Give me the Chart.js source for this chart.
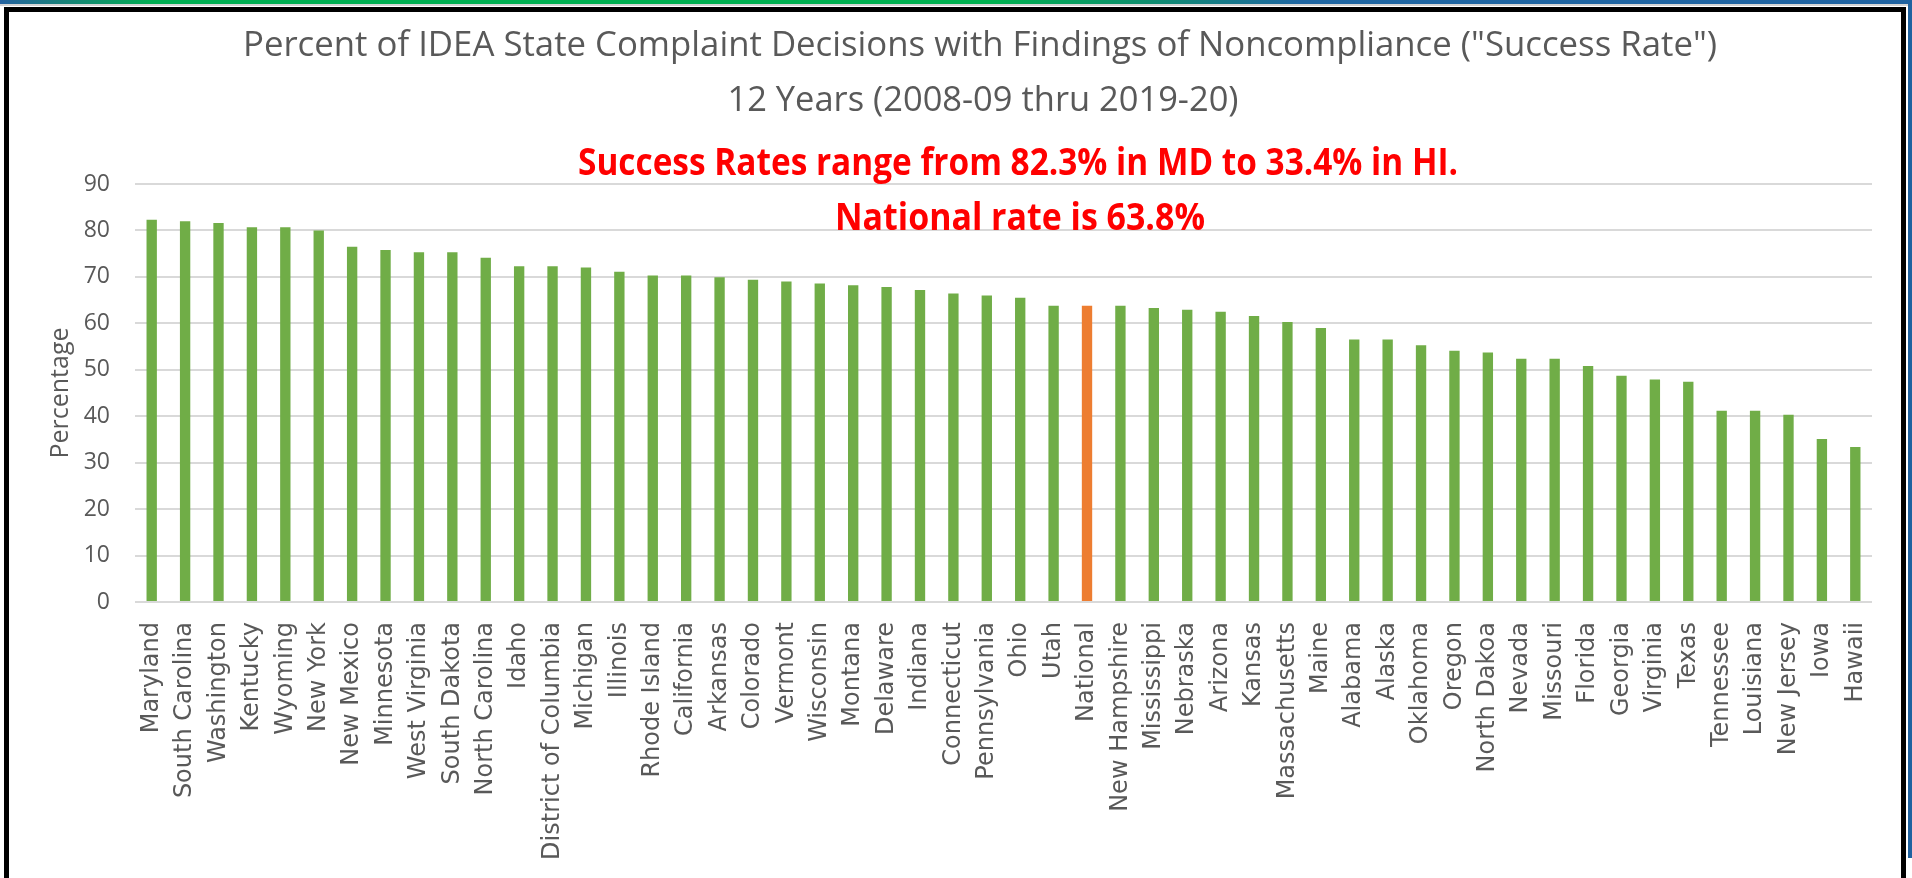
<!DOCTYPE html>
<html>
<head>
<meta charset="utf-8">
<script src="https://cdn.jsdelivr.net/npm/chart.js@4.4.1/dist/chart.umd.min.js"></script>
<style>
  html, body { margin: 0; padding: 0; background: #ffffff; width: 1912px; height: 878px; overflow: hidden; }
  #topbar { position: absolute; left: 0; top: 0; width: 1912px; height: 4px;
    background: linear-gradient(to right, #2462a0 0%, #1a7e7c 3%, #00ad52 8%, #00b050 52%, #0e8d6e 60%, #1f66a2 68%, #1f62a0 100%); }
  #topline { position: absolute; left: 0; top: 4px; width: 1912px; height: 2px; background: #d4d4d4; }
  #rightbar { position: absolute; left: 1908px; top: 0; width: 4px; height: 858px; background: #1f62a0; }
  #frame { position: absolute; left: 4px; top: 7px; width: 1902px; height: 920px; border: 5px solid #000; box-sizing: border-box; background: #fff; }
  #c { position: absolute; left: 0; top: 0; }
</style>
</head>
<body>
<div id="topbar"></div>
<div id="topline"></div>
<div id="rightbar"></div>
<div id="frame"></div>
<canvas id="c" width="1912" height="878"></canvas>
<script>
const titleLine1 = 'Percent of IDEA State Complaint Decisions with Findings of Noncompliance ("Success Rate")';
const titleLine2 = '12 Years (2008-09 thru 2019-20)';
const noteLine1 = 'Success Rates range from 82.3% in MD to 33.4% in HI.';
const noteLine2 = 'National rate is 63.8%';
const yAxisTitle = 'Percentage';

const states = [
  'Maryland', 'South Carolina', 'Washington', 'Kentucky', 'Wyoming', 'New York',
  'New Mexico', 'Minnesota', 'West Virginia', 'South Dakota', 'North Carolina', 'Idaho',
  'District of Columbia', 'Michigan', 'Illinois', 'Rhode Island', 'California', 'Arkansas',
  'Colorado', 'Vermont', 'Wisconsin', 'Montana', 'Delaware', 'Indiana',
  'Connecticut', 'Pennsylvania', 'Ohio', 'Utah', 'National', 'New Hampshire',
  'Mississippi', 'Nebraska', 'Arizona', 'Kansas', 'Massachusetts', 'Maine',
  'Alabama', 'Alaska', 'Oklahoma', 'Oregon', 'North Dakoa', 'Nevada',
  'Missouri', 'Florida', 'Georgia', 'Virginia', 'Texas', 'Tennessee',
  'Louisiana', 'New Jersey', 'Iowa', 'Hawaii'
];

const successRate = [
  82.3, 82.0, 81.6, 80.7, 80.7, 80.0,
  76.5, 75.8, 75.3, 75.3, 74.1, 72.3,
  72.3, 72.0, 71.1, 70.3, 70.3, 69.9,
  69.4, 69.0, 68.6, 68.2, 67.8, 67.2,
  66.4, 66.0, 65.5, 63.8, 63.8, 63.8,
  63.3, 62.9, 62.5, 61.6, 60.3, 59.0,
  56.5, 56.5, 55.3, 54.1, 53.7, 52.4,
  52.4, 50.8, 48.7, 47.9, 47.4, 41.2,
  41.2, 40.3, 35.1, 33.4
];

const yTicks = [0, 10, 20, 30, 40, 50, 60, 70, 80, 90];

const highlightLabel = 'National';
const GREEN = '#70AD47';
const ORANGE = '#ED7D31';
const TEXT_GRAY = '#595959';
const GRID = '#D9D9D9';

const barColors = states.map(s => s === highlightLabel ? ORANGE : GREEN);

function drawFitted(ctx, text, cx, baseline, font, color, targetWidth) {
  ctx.save();
  ctx.font = font;
  ctx.fillStyle = color;
  ctx.textBaseline = 'alphabetic';
  ctx.textAlign = 'center';
  const w = ctx.measureText(text).width;
  const sx = targetWidth / w;
  ctx.translate(cx, baseline);
  ctx.scale(sx, 1);
  ctx.fillText(text, 0, 0);
  ctx.restore();
}

const textPlugin = {
  id: 'texts',
  afterDraw(chart) {
    const ctx = chart.ctx;
    drawFitted(ctx, titleLine1, 980, 56, '400 34px "Open Sans"', TEXT_GRAY, 1474);
    drawFitted(ctx, titleLine2, 983, 111, '400 34px "Open Sans"', TEXT_GRAY, 511);
    drawFitted(ctx, noteLine1, 1018, 175, '700 37px "Open Sans"', '#FF0000', 880);
    drawFitted(ctx, noteLine2, 1020, 230, '700 37px "Open Sans"', '#FF0000', 370);
  }
};

new Chart(document.getElementById('c'), {
  type: 'bar',
  data: {
    labels: states,
    datasets: [{
      label: 'Success Rate',
      data: successRate,
      backgroundColor: barColors,
      borderWidth: 0,
      categoryPercentage: 1.0,
      barPercentage: 0.31
    }]
  },
  options: {
    responsive: false,
    animation: false,
    devicePixelRatio: 1,
    layout: { padding: { top: 184, right: 40, bottom: 0, left: 0 } },
    plugins: {
      legend: { display: false },
      tooltip: { enabled: false },
      title: { display: false }
    },
    scales: {
      x: {
        grid: { display: false, drawTicks: false },
        border: { display: false },
        ticks: {
          autoSkip: false,
          minRotation: 90,
          maxRotation: 90,
          padding: 20,
          color: TEXT_GRAY,
          font: { family: '"DejaVu Sans"', size: 24 }
        },
        afterFit(scale) { scale.height = 276; }
      },
      y: {
        min: 0,
        max: 90,
        afterBuildTicks(scale) { scale.ticks = yTicks.map(v => ({ value: v })); },
        grid: { color: GRID, lineWidth: 2, drawTicks: false },
        border: { display: false },
        ticks: {
          padding: 25,
          color: TEXT_GRAY,
          font: { family: '"Open Sans"', size: 23 }
        },
        title: {
          display: true,
          text: yAxisTitle,
          color: TEXT_GRAY,
          font: { family: '"Open Sans"', size: 25 },
          padding: { top: 46, bottom: 0 }
        },
        afterFit(scale) { scale.width = 135; }
      }
    }
  },
  plugins: [textPlugin]
});
</script>
</body>
</html>
